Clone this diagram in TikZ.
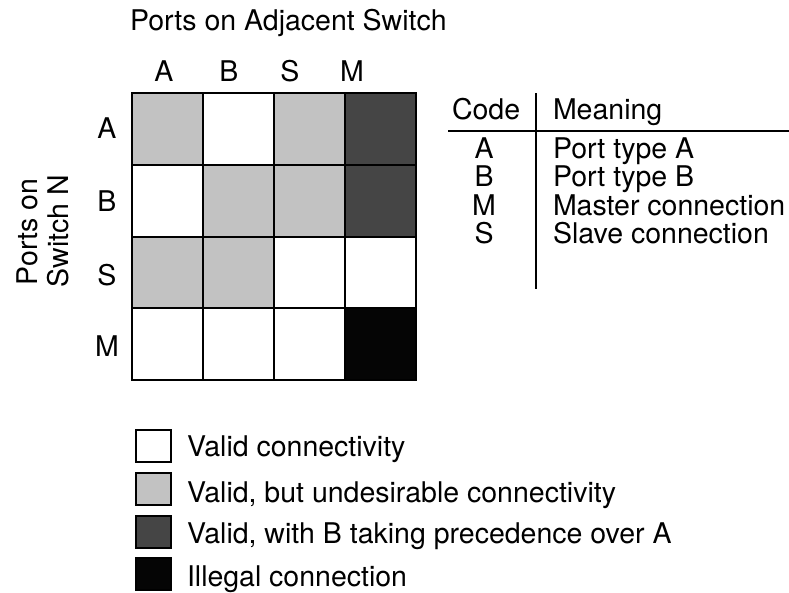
\documentclass[tikz,border=0pt]{standalone}
\usepackage{fontspec}
\setmainfont{TeX Gyre Heros}
\definecolor{undesired}{gray}{0.76}
\definecolor{precede}{gray}{0.27}
\definecolor{illegal}{gray}{0.02}
\begin{document}
\begin{tikzpicture}[x=1pt,y=-1pt,
  txt/.style={font=\fontsize{28.5}{30}\selectfont, inner sep=0pt, outer sep=0pt},
  cell/.style={draw, line width=2pt, minimum width=71pt, minimum height=71.75pt,
               inner sep=0pt, anchor=north west},
  key/.style={draw, line width=2.6pt, minimum width=35pt, minimum height=32pt,
              inner sep=0pt, anchor=north west},
  rule/.style={line width=2pt}]
\useasboundingbox (0,0) rectangle (789,592);

% heading over the matrix
\node[txt, anchor=base west] (top) at (130,30) {Ports on Adjacent Switch};
\node[txt, anchor=base, rotate=90] (side1) at (37,232) {Ports on};
\node[txt, anchor=base, rotate=90] (side2) at (68,231) {Switch N};

% column labels
\node[txt, anchor=base] (colA) at (164,81) {A};
\node[txt, anchor=base] (colB) at (229,81) {B};
\node[txt, anchor=base] (colS) at (290,81) {S};
\node[txt, anchor=base] (colM) at (352,81) {M};

% row labels
\node[txt] (rowA) at (107,128) {A};
\node[txt] (rowB) at (107,201) {B};
\node[txt] (rowS) at (107,275) {S};
\node[txt] (rowM) at (107,346) {M};

% connectivity matrix
\node[cell, fill=undesired] (AA) at (131,92) {};
\node[cell, fill=white]     (AB) at (202,92) {};
\node[cell, fill=undesired] (AS) at (273,92) {};
\node[cell, fill=precede]   (AM) at (344,92) {};
\node[cell, fill=white]     (BA) at (131,163.75) {};
\node[cell, fill=undesired] (BB) at (202,163.75) {};
\node[cell, fill=undesired] (BS) at (273,163.75) {};
\node[cell, fill=precede]   (BM) at (344,163.75) {};
\node[cell, fill=undesired] (SA) at (131,235.5) {};
\node[cell, fill=undesired] (SB) at (202,235.5) {};
\node[cell, fill=white]     (SS) at (273,235.5) {};
\node[cell, fill=white]     (SM) at (344,235.5) {};
\node[cell, fill=white]     (MA) at (131,307.25) {};
\node[cell, fill=white]     (MB) at (202,307.25) {};
\node[cell, fill=white]     (MS) at (273,307.25) {};
\node[cell, fill=illegal]   (MM) at (344,307.25) {};

% code table
\node[txt, anchor=base west] (hcode) at (452,119) {Code};
\node[txt, anchor=base west] (hmean) at (553,119) {Meaning};
\coordinate (hl) at (448,131);
\coordinate (hr) at (789,131);
\coordinate (vt) at (536,93);
\coordinate (vb) at (536,289);
\draw[rule] (hl) -- (hr);
\draw[rule] (vt) -- (vb);
\node[txt, anchor=base] (cA) at (484,158) {A};
\node[txt, anchor=base] (cB) at (484,186.5) {B};
\node[txt, anchor=base] (cM) at (484,215) {M};
\node[txt, anchor=base] (cS) at (484,243.5) {S};
\node[txt, anchor=base west] (mA) at (553,158) {Port type A};
\node[txt, anchor=base west] (mB) at (553,186.5) {Port type B};
\node[txt, anchor=base west] (mM) at (553,215) {Master connection};
\node[txt, anchor=base west] (mS) at (553,243.5) {Slave connection};

% legend
\node[key, fill=white]     (k1) at (134.5,428.5) {};
\node[key, fill=undesired] (k2) at (134.5,471.5) {};
\node[key, fill=precede]   (k3) at (134.5,514.5) {};
\node[key, fill=illegal]   (k4) at (134.5,556.5) {};
\node[txt, anchor=base west] (t1) at (187,456) {Valid connectivity};
\node[txt, anchor=base west] (t2) at (187,502) {Valid, but undesirable connectivity};
\node[txt, anchor=base west] (t3) at (187,543) {Valid, with B taking precedence over A};
\node[txt, anchor=base west] (t4) at (187,586) {Illegal connection};
\end{tikzpicture}
\end{document}
